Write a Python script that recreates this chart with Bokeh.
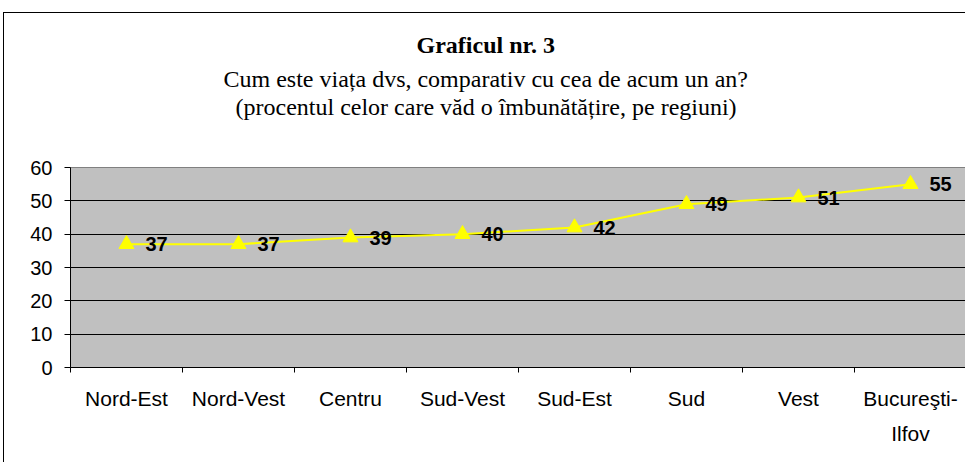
from bokeh.plotting import figure
from bokeh.models import ColumnDataSource, FixedTicker, LabelSet, Range1d, Title
from bokeh.core.properties import value
from bokeh.embed import file_html
from bokeh.resources import INLINE

regions = ["Nord-Est", "Nord-Vest", "Centru", "Sud-Vest", "Sud-Est", "Sud", "Vest", "Bucureşti-\nIlfov"]
values = [37, 37, 39, 40, 42, 49, 51, 55]
y_ticks = [0, 10, 20, 30, 40, 50, 60]
grid_ticks = [10, 20, 30, 40, 50]
title_text = "Graficul nr. 3"
subtitle_lines = ["Cum este viața dvs, comparativ cu cea de acum un an?",
                  "(procentul celor care văd o îmbunătățire, pe regiuni)"]

xs = [i + 0.5 for i in range(len(regions))]
src = ColumnDataSource(dict(x=xs, y=values, label=[str(v) for v in values]))

p = figure(width=962, height=450, title=None,
           x_range=Range1d(0, len(regions)), y_range=Range1d(0, 60),
           output_backend="svg", toolbar_location=None,
           min_border_left=66, min_border_right=0, min_border_top=154, min_border_bottom=96,
           background_fill_color="#C0C0C0", border_fill_color="white",
           outline_line_color="#808080",
           styles={"border-top": "1px solid black", "border-left": "1px solid black",
                   "margin-top": "12px", "margin-left": "3px"})

# axes
p.xaxis.ticker = FixedTicker(ticks=xs, minor_ticks=list(range(len(regions) + 1)))
p.xaxis.major_label_overrides = {x: r for x, r in zip(xs, regions)}
p.xaxis.major_tick_line_color = None
p.xaxis.major_tick_out = 5
p.xaxis.major_tick_in = 0
p.xaxis.minor_tick_line_color = "black"
p.xaxis.minor_tick_out = 5
p.xaxis.minor_tick_in = 0
p.xaxis.major_label_standoff = 14
p.xaxis.axis_line_color = "black"
p.xaxis.major_label_text_font_size = "21px"
p.xaxis.major_label_text_line_height = 1.55

p.yaxis.ticker = FixedTicker(ticks=y_ticks)
p.yaxis.major_tick_out = 6
p.yaxis.major_tick_in = 0
p.yaxis.minor_tick_line_color = None
p.yaxis.major_label_standoff = 12
p.yaxis.axis_line_color = "black"
p.yaxis.major_label_text_font_size = "20px"

for ax in (p.xaxis, p.yaxis):
    ax.major_label_text_font = "Liberation Sans"
    ax.major_label_text_color = "black"

p.xgrid.grid_line_color = None
p.ygrid.ticker = FixedTicker(ticks=grid_ticks)
p.ygrid.grid_line_color = "black"
p.ygrid.grid_line_width = 1

# data
p.line("x", "y", source=src, line_color="#FFFF00", line_width=2)
p.scatter("x", "y", source=src, marker="triangle", size=15,
          fill_color="#FFFF00", line_color="#FFFF00")
p.add_layout(LabelSet(x="x", y="y", text="label", source=src, x_offset=19,
                      text_baseline="middle", text_font=value("Liberation Sans"),
                      text_font_size=value("20px"), text_font_style="bold", text_color="black"))

# titles (first added sits closest to the plot frame)
p.add_layout(Title(text=" ", text_font_size="1px", standoff=45), "above")
p.add_layout(Title(text=subtitle_lines[1], align="left", offset=165, standoff=0,
                   text_font="Liberation Serif", text_font_size="24px",
                   text_font_style="normal", text_color="black"), "above")
p.add_layout(Title(text=subtitle_lines[0], align="left", offset=153, standoff=0,
                   text_font="Liberation Serif", text_font_size="24px",
                   text_font_style="normal", text_color="black"), "above")
p.add_layout(Title(text=title_text, align="left", offset=346, standoff=12,
                   text_font="Liberation Serif", text_font_size="24px",
                   text_font_style="bold", text_color="black"), "above")

open("out.html", "w").write(file_html(p, INLINE))
